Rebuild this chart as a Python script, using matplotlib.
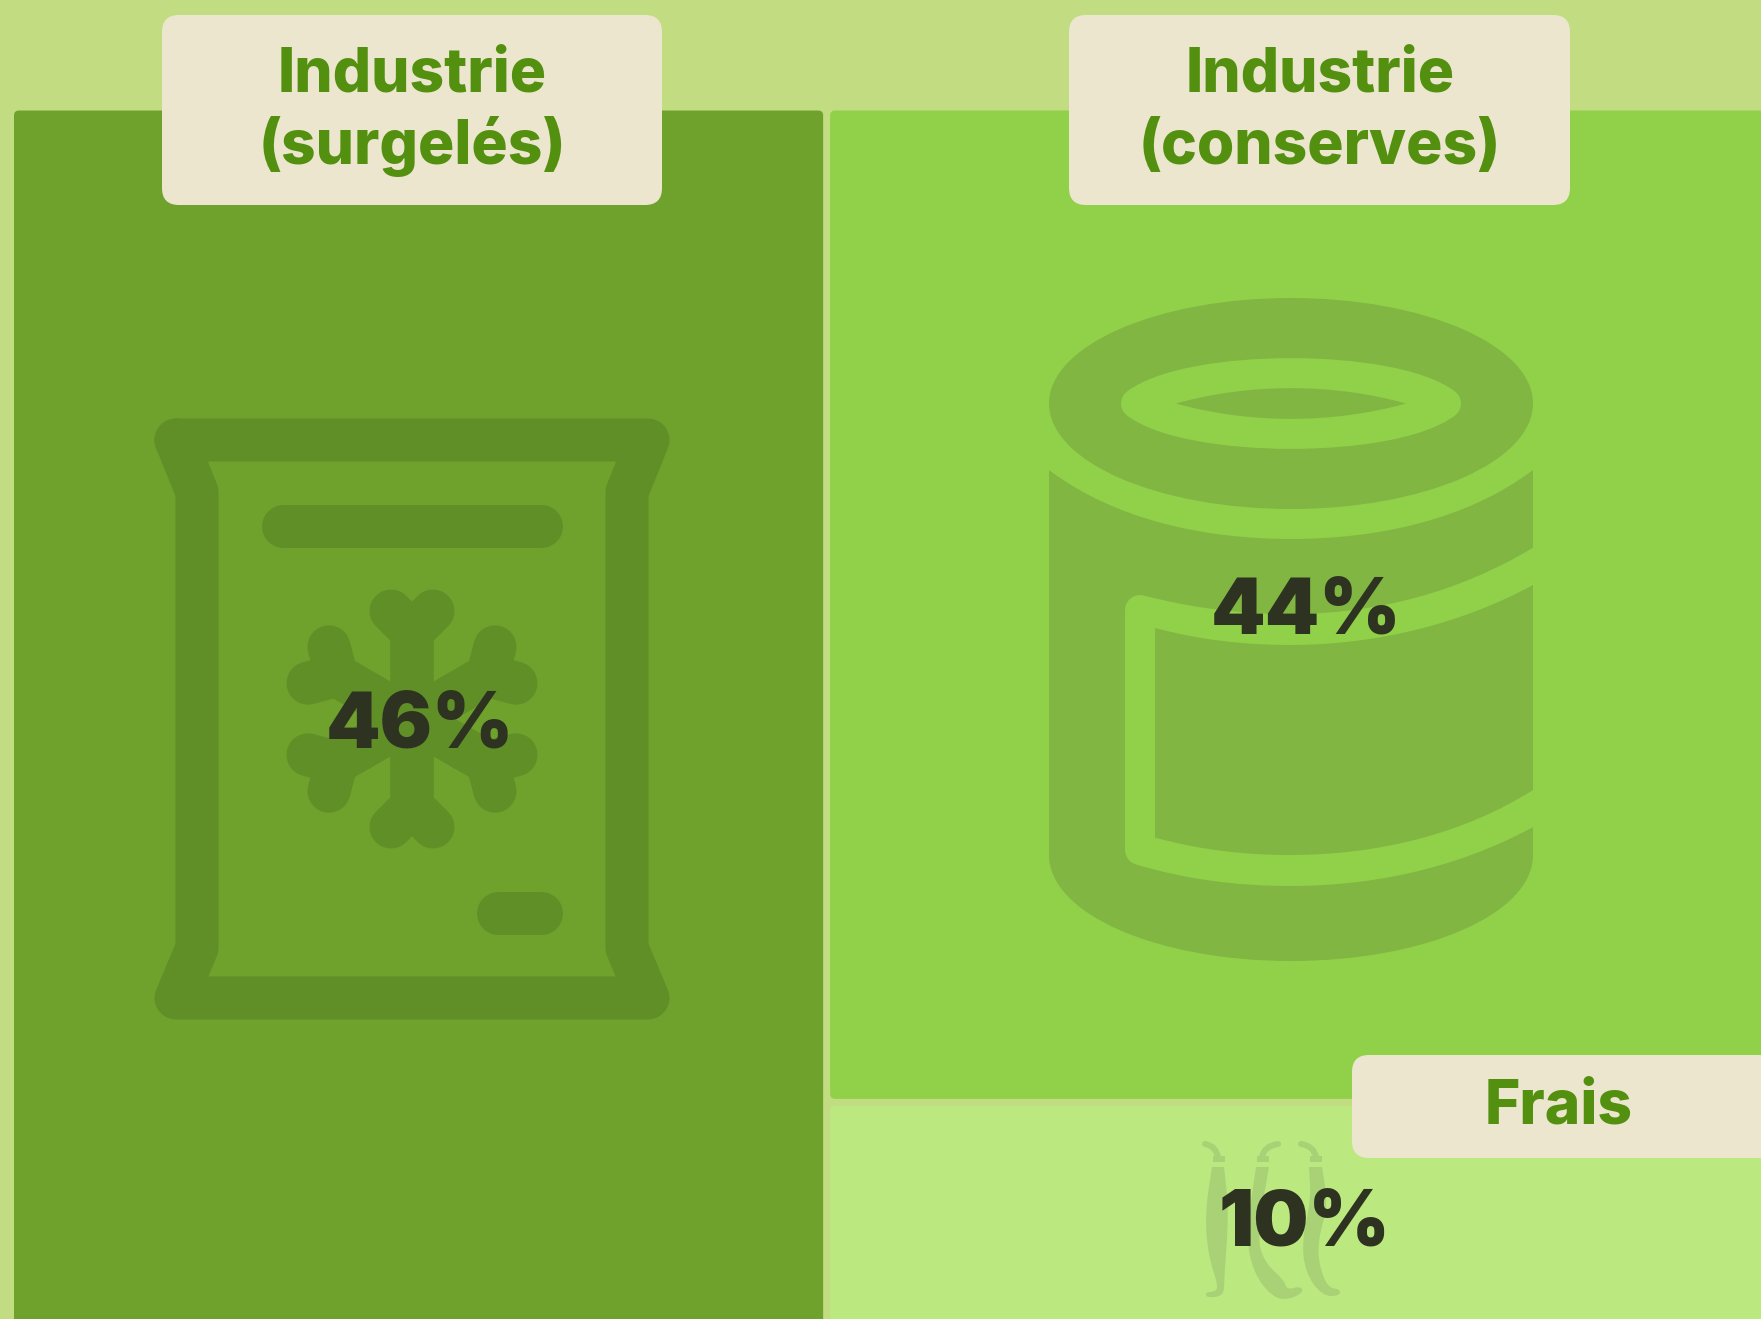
#!/usr/bin/env python3
"""Treemap of outlets (surgeles / conserves / frais) with the pale icons behind the numbers."""
import numpy as np
import matplotlib
matplotlib.use("Agg")
import matplotlib.pyplot as plt
from matplotlib.patches import FancyBboxPatch, PathPatch, Ellipse, Rectangle
from matplotlib.path import Path

W, H = 1761, 1319
DPI = 100

CATEGORIES = ["Industrie\n(surgelés)", "Industrie\n(conserves)", "Frais"]
VALUES = [46, 44, 10]

BG = "#C2DC82"
CELL_COLORS = ["#6FA12D", "#91D049", "#BCE880"]
ICON_COLORS = ["#608F28", "#81B642", "#A9D277"]
LABEL_BG = "#EDE6CF"
LABEL_FG = "#53900F"
VALUE_FG = "#2E3220"
FONT = ["Inter", "DejaVu Sans"]

# treemap frame, runs a little past the right and bottom edges of the picture
X0, Y0, TW, TH, GAP = 14, 110.5, 1759, 1213, 7


def px(v):
    return v * 72 / DPI


def smooth(pts):
    """Closed quadratic spline through the midpoints of pts."""
    pts = np.asarray(pts, float)
    mids = (pts + np.roll(pts, -1, axis=0)) / 2
    verts, codes = [mids[-1]], [Path.MOVETO]
    for p, m in zip(pts, mids):
        verts += [p, m]
        codes += [Path.CURVE3, Path.CURVE3]
    return Path(verts, codes)


def cell(ax, x, y, w, h, color):
    ax.add_patch(FancyBboxPatch((x, y), w, h, boxstyle="round,pad=0,rounding_size=5",
                                fc=color, ec="none"))


def label(ax, x0, x1, y0, y1, txt, cx, base):
    ax.add_patch(FancyBboxPatch((x0, y0), x1 - x0, y1 - y0, boxstyle="round,pad=0,rounding_size=17",
                                fc=LABEL_BG, ec="none", zorder=5))
    for i, line in enumerate(txt.split("\n")):
        ax.text(cx, base + 72 * i, line, ha="center", va="baseline", color=LABEL_FG,
                fontsize=43.5, fontweight=800, family=FONT, zorder=6)


def stroke(ax, xs, ys, color, lw):
    ax.plot(xs, ys, color=color, lw=px(lw), solid_capstyle="round", solid_joinstyle="round", zorder=2)


def bag(ax, color):
    xs = [176, 197, 197, 176, 648, 627, 627, 648, 176]
    ys = [440, 492, 948, 998, 998, 948, 492, 440, 440]
    stroke(ax, xs, ys, color, 43)
    stroke(ax, [283, 541], [525.5, 525.5], color, 43)
    stroke(ax, [498, 541], [912.5, 912.5], color, 43)
    # snowflake: one arm with its fork, turned six times
    cx, cy = 412, 719
    for a in np.radians(np.arange(0, 360, 60)):
        c, s = np.cos(a), np.sin(a)
        rot = lambda x, y: (cx + x * c - y * s, cy + x * s + y * c)
        for fx in (-21, 21):
            p = [rot(0, 0), rot(0, -87), rot(fx, -108)]
            stroke(ax, [q[0] for q in p], [q[1] for q in p], color, 43)


def can(ax, color, light):
    curved = [Path.MOVETO] + [Path.CURVE4] * 6 + [Path.LINETO] + [Path.CURVE4] * 6 + [Path.CLOSEPOLY]
    # body
    body = Path([(1049, 470), (1115, 520), (1205, 539), (1291, 539), (1377, 539), (1467, 520), (1533, 470),
                 (1533, 855), (1533, 914), (1425, 961), (1291, 961), (1157, 961), (1049, 914), (1049, 855),
                 (1049, 470)], curved)
    ax.add_patch(PathPatch(body, fc=color, ec="none", zorder=2))
    # paper label on the can
    band = Path([(1140, 610), (1190, 623), (1240, 629), (1290, 629), (1380, 629), (1465, 606), (1540, 561),
                 (1540, 806), (1465, 850), (1380, 871), (1290, 871), (1240, 871), (1190, 865), (1140, 850),
                 (1140, 610)], curved)
    ax.add_patch(PathPatch(band, fc=light, ec=light, lw=px(30), joinstyle="round", zorder=2))
    panel = Path([(1155, 628), (1200, 640), (1245, 645), (1290, 645), (1380, 645), (1465, 622), (1533, 585),
                  (1533, 790), (1465, 833), (1380, 855), (1290, 855), (1245, 855), (1200, 850), (1155, 837.5),
                  (1155, 628)], curved)
    ax.add_patch(PathPatch(panel, fc=color, ec="none", zorder=2))
    # lid
    ax.add_patch(Ellipse((1291, 403.5), 484, 211, fc=color, ec="none", zorder=2))
    rim = Path([(1136, 403.5), (1190, 363), (1392, 363), (1446, 403.5),
                (1392, 444), (1190, 444), (1136, 403.5), (1136, 403.5)],
               [Path.MOVETO] + [Path.CURVE4] * 6 + [Path.CLOSEPOLY])
    ax.add_patch(PathPatch(rim, fc=light, ec=light, lw=px(30), joinstyle="round", zorder=2))
    hole = Path([(1176, 403.5), (1250, 383), (1332, 383), (1406, 403.5),
                 (1332, 424), (1250, 424), (1176, 403.5), (1176, 403.5)],
                [Path.MOVETO] + [Path.CURVE4] * 6 + [Path.CLOSEPOLY])
    ax.add_patch(PathPatch(hole, fc=color, ec="none", zorder=2))


def beans(ax, color):
    stems = [[(1205, 1144), (1216, 1146), (1218, 1157)],
             [(1278, 1144), (1264, 1146), (1262, 1157)],
             [(1301, 1144), (1314, 1146), (1316, 1157)]]
    for st in stems:
        ax.add_patch(PathPatch(Path(st, [Path.MOVETO, Path.CURVE3, Path.CURVE3]), fc="none", ec=color,
                               lw=px(6), capstyle="round", zorder=2))
    for x in (1213, 1257, 1310):
        ax.add_patch(Rectangle((x, 1156), 11.5, 5.5, fc=color, ec="none", zorder=2))
    # pods, walking down one side and back up the other
    pods = [
        [(1212, 1167), (1212, 1167), (1205, 1213), (1208, 1255), (1219, 1288), (1213, 1292), (1206, 1292),
         (1206, 1298), (1224, 1296), (1224, 1280), (1229, 1213), (1224, 1167), (1224, 1167)],
        [(1256, 1167), (1256, 1167), (1246, 1235), (1253, 1272), (1272, 1297), (1288, 1300), (1304, 1292),
         (1300, 1286), (1287, 1290), (1284, 1280), (1264, 1262), (1257, 1235), (1269, 1167), (1269, 1167)],
        [(1309, 1167), (1309, 1167), (1311, 1200), (1302, 1240), (1305, 1272), (1322, 1296), (1340, 1296),
         (1340, 1289), (1328, 1288), (1319, 1265), (1318, 1240), (1328, 1205), (1322, 1167), (1322, 1167)],
    ]
    for pod in pods:
        ax.add_patch(PathPatch(smooth(pod), fc=color, ec="none", zorder=2))


fig = plt.figure(figsize=(W / DPI, H / DPI), dpi=DPI, facecolor=BG)
ax = fig.add_axes([0, 0, 1, 1])
ax.set_xlim(0, W)
ax.set_ylim(H, 0)
ax.axis("off")

total = sum(VALUES)
w_left = TW * VALUES[0] / total
h_top = TH * VALUES[1] / (VALUES[1] + VALUES[2])
x_right = X0 + w_left + GAP
y_low = Y0 + h_top + GAP
cell(ax, X0, Y0, w_left, TH + 40, CELL_COLORS[0])
cell(ax, x_right, Y0, TW - w_left + 40, h_top, CELL_COLORS[1])
cell(ax, x_right, y_low, TW - w_left + 40, TH - h_top + 40, CELL_COLORS[2])

bag(ax, ICON_COLORS[0])
can(ax, ICON_COLORS[1], CELL_COLORS[1])
beans(ax, ICON_COLORS[2])

label(ax, 162, 662, 15, 205, CATEGORIES[0], 412, 92)
label(ax, 1069, 1570, 15, 205, CATEGORIES[1], 1320, 92)
label(ax, 1352, 1790, 1055, 1158, CATEGORIES[2], 1559, 1124)

for v, cx, base in zip(VALUES, (420, 1306, 1304), (748, 633, 1245)):
    ax.text(cx, base, f"{v}%", ha="center", va="baseline", color=VALUE_FG, fontsize=56,
            fontweight=900, family=FONT, zorder=7)

fig.savefig("out.png", dpi=DPI, facecolor=BG)
plt.close(fig)
